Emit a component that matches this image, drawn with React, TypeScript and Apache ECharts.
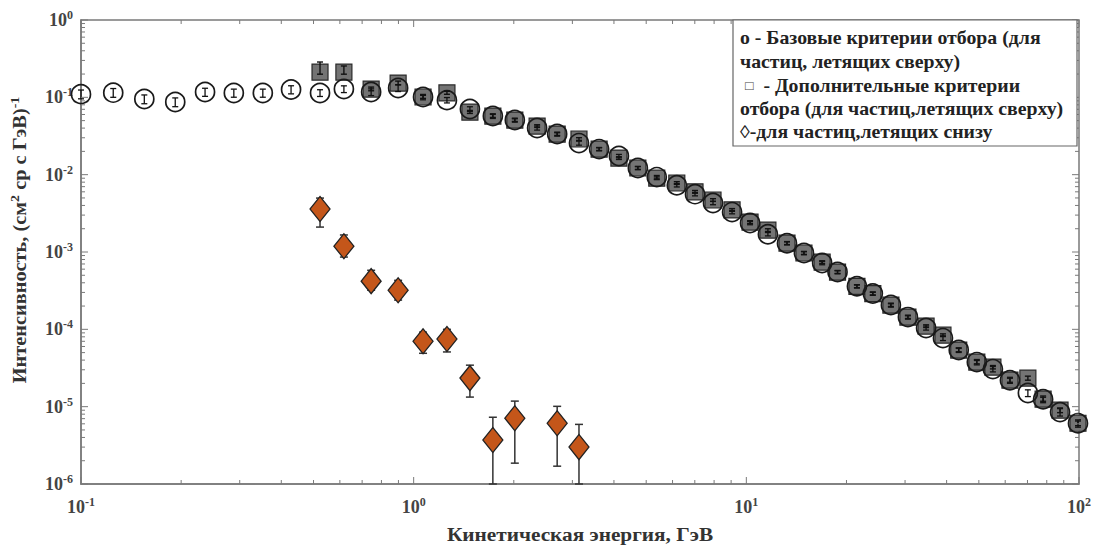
import React, { useEffect, useRef } from "react";
import * as echarts from "echarts";

// Kinetic energy bins, GeV
const energy = [
  0.1, 0.125, 0.155, 0.192, 0.236, 0.288, 0.352, 0.428, 0.523, 0.617,
  0.745, 0.898, 1.067, 1.259, 1.476, 1.73, 2.014, 2.35, 2.7, 3.14,
  3.61, 4.14, 4.72, 5.38, 6.18, 7.01, 7.94, 9.06, 10.26, 11.61,
  13.25, 14.9, 16.9, 18.8, 21.5, 24.0, 27.2, 30.6, 34.7, 39.0,
  43.5, 49.3, 55.1, 62.0, 70.2, 78.0, 87.7, 99.3,
];

// Basic selection criteria (circles)
const baseIntensity = [
  0.11, 0.115, 0.095, 0.087, 0.117, 0.114, 0.114, 0.126, 0.114, 0.128,
  0.117, 0.132, 0.101, 0.092, 0.0706, 0.0573, 0.0508, 0.0401, 0.0335, 0.0256,
  0.0214, 0.0174, 0.0122, 0.0093, 0.0073, 0.0056, 0.0043, 0.00328, 0.00237, 0.0017,
  0.0013, 0.00097, 0.00072, 0.00055, 0.00036, 0.00029, 0.000206, 0.000144, 0.000104, 7.7e-5,
  5.4e-5, 3.77e-5, 3.06e-5, 2.2e-5, 1.5e-5, 1.25e-5, 8.5e-6, 6.1e-6,
];
const baseRelErr = [
  0.13, 0.13, 0.13, 0.13, 0.12, 0.12, 0.12, 0.12, 0.1, 0.1,
  0.1, 0.1, 0.08, 0.08, 0.07, 0.07, 0.06, 0.06, 0.06, 0.06,
  0.05, 0.05, 0.05, 0.05, 0.05, 0.05, 0.05, 0.05, 0.05, 0.05,
  0.05, 0.05, 0.05, 0.05, 0.05, 0.05, 0.06, 0.06, 0.06, 0.07,
  0.07, 0.08, 0.08, 0.09, 0.1, 0.1, 0.11, 0.11,
];

// Additional selection criteria (squares), from energy[8] onward
const extraEnergy = energy.slice(8);
const extraIntensity = [
  0.212, 0.212, 0.128, 0.153, 0.101, 0.114, 0.0645, 0.0573, 0.0508, 0.0425,
  0.0335, 0.0289, 0.0214, 0.0164, 0.0122, 0.009, 0.0078, 0.006, 0.0047, 0.0035,
  0.00244, 0.00192, 0.0013, 0.00097, 0.00074, 0.00055, 0.00036, 0.00029, 0.000206, 0.000144,
  0.00011, 8.4e-5, 5.4e-5, 3.77e-5, 3.24e-5, 2.2e-5, 2.34e-5, 1.25e-5, 9.0e-6, 6.1e-6,
];
const extraErrUp = [
  0.35, 0.2, 0.06, 0.06, 0.05, 0.05, 0.05, 0.05, 0.04, 0.04,
  0.04, 0.04, 0.04, 0.04, 0.04, 0.04, 0.04, 0.04, 0.04, 0.04,
  0.04, 0.04, 0.04, 0.04, 0.04, 0.04, 0.04, 0.04, 0.04, 0.04,
  0.04, 0.04, 0.05, 0.05, 0.05, 0.06, 0.06, 0.06, 0.07, 0.07,
];
const extraErrDown = [
  0.06, 0.06, 0.05, 0.05, 0.04, 0.04, 0.04, 0.04, 0.04, 0.04,
  0.04, 0.04, 0.04, 0.04, 0.04, 0.04, 0.04, 0.04, 0.04, 0.04,
  0.04, 0.04, 0.04, 0.04, 0.04, 0.04, 0.04, 0.04, 0.04, 0.04,
  0.04, 0.04, 0.05, 0.05, 0.05, 0.06, 0.06, 0.06, 0.07, 0.07,
];

// Upward-going particles (diamonds)
const upEnergy = [0.523, 0.617, 0.745, 0.898, 1.067, 1.259, 1.476, 1.73, 2.014, 2.7, 3.14];
const upIntensity = [3.59e-3, 1.19e-3, 4.2e-4, 3.2e-4, 7.0e-5, 7.5e-5, 2.34e-5, 3.7e-6, 7.1e-6, 6.1e-6, 3.0e-6];
const upHigh = [4.98e-3, 1.66e-3, 5.8e-4, 4.3e-4, 9.2e-5, 1.0e-4, 3.44e-5, 7.3e-6, 1.18e-5, 1.01e-5, 5.9e-6];
const upLow = [2.1e-3, 8.6e-4, 3.2e-4, 2.39e-4, 4.9e-5, 5.1e-5, 1.33e-5, 1e-6, 1.86e-6, 1.7e-6, 1e-6];

// Axis ticks
const xMajorTicks = [0.1, 1, 10, 100];
const yMajorTicks = [1e-6, 1e-5, 1e-4, 1e-3, 1e-2, 1e-1, 1];
const minorMultipliers = [2, 3, 4, 5, 6, 7, 8, 9];

const xTitle = "Кинетическая энергия, ГэВ";
const legendLines = [
  "o - Базовые критерии отбора (для",
  "частиц, летящих сверху)",
  " {sq|□}  - Дополнительные критерии",
  "отбора (для частиц,летящих сверху)",
  "◊-для частиц,летящих снизу",
];

const FONT = '"Liberation Serif", "Times New Roman", serif';
const AXIS_COLOR = "#7a7a7a";

function errorBarSeries(data: number[][], color: string, lw: number, cap: number, z: number) {
  return {
    type: "custom",
    z,
    silent: true,
    encode: { x: 0, y: [1, 2] },
    data,
    renderItem: (params: any, api: any) => {
      const x = api.value(0);
      const a = api.coord([x, api.value(1)]);
      const b = api.coord([x, api.value(2)]);
      const style = { stroke: color, lineWidth: lw };
      return {
        type: "group",
        children: [
          { type: "line", shape: { x1: a[0], y1: a[1], x2: b[0], y2: b[1] }, style },
          { type: "line", shape: { x1: a[0] - cap, y1: a[1], x2: a[0] + cap, y2: a[1] }, style },
          { type: "line", shape: { x1: b[0] - cap, y1: b[1], x2: b[0] + cap, y2: b[1] }, style },
        ],
      };
    },
  };
}

export default function App() {
  const ref = useRef<HTMLDivElement>(null);

  useEffect(() => {
    if (!ref.current) return;
    const chart = echarts.init(ref.current, null, { renderer: "svg" });

    const xTickData: number[][] = [];
    xMajorTicks.forEach((v, i) => {
      xTickData.push([v, 1e-3, 1]);
      if (i < xMajorTicks.length - 1) minorMultipliers.forEach((m) => xTickData.push([v * m, 1e-3, 0]));
    });
    const yTickData: number[][] = [];
    yMajorTicks.forEach((v, i) => {
      yTickData.push([1, v, 1]);
      if (i < yMajorTicks.length - 1) minorMultipliers.forEach((m) => yTickData.push([1, v * m, 0]));
    });

    const labelRich = {
      b: { fontSize: 18, fontWeight: "bold", color: "#444", fontFamily: FONT, lineHeight: 22 },
      s: { fontSize: 12, fontWeight: "bold", color: "#444", fontFamily: FONT, lineHeight: 12, verticalAlign: "top" },
    };
    const fmt = (v: number) => `{b|10}{s|${Math.round(Math.log10(v))}}`;

    const option: any = {
      animation: false,
      backgroundColor: "#fff",
      grid: {
        left: 81, right: 17, top: 20, bottom: 63,
        show: true, borderColor: AXIS_COLOR, borderWidth: 1.5, backgroundColor: "transparent",
      },
      xAxis: {
        type: "log", logBase: 10, min: 0.1, max: 100, interval: 1,
        axisLine: { show: true, lineStyle: { color: AXIS_COLOR, width: 1.5 } },
        axisTick: { show: false },
        splitLine: { show: false },
        axisLabel: { formatter: fmt, rich: labelRich, margin: 12 },
      },
      yAxis: {
        type: "log", logBase: 10, min: 1e-6, max: 1, interval: 1,
        axisLine: { show: true, lineStyle: { color: AXIS_COLOR, width: 1.5 } },
        axisTick: { show: false },
        splitLine: { show: false },
        axisLabel: { formatter: fmt, rich: labelRich, margin: 8 },
      },
      graphic: [
        {
          type: "text", x: 580, y: 534, z: 10, scaleX: 1.12,
          style: {
            text: xTitle, fontSize: 19, fontWeight: "bold", fontFamily: FONT, fill: "#333",
            align: "center", verticalAlign: "middle",
          },
        },
        {
          type: "text", x: 19, y: 240, rotation: Math.PI / 2, scaleX: 1.07, z: 10,
          style: {
            text: "{t|Интенсивность, (см}{s|2}{t| ср с ГэВ)}{s|-1}",
            align: "center", verticalAlign: "middle",
            rich: {
              t: { fontSize: 19, fontWeight: "bold", fontFamily: FONT, fill: "#333", lineHeight: 22 },
              s: { fontSize: 13, fontWeight: "bold", fontFamily: FONT, fill: "#333", lineHeight: 13, verticalAlign: "top" },
            },
          },
        },
        {
          type: "rect", z: 20,
          shape: { x: 733, y: 20, width: 344, height: 126 },
          style: { fill: "#fff", stroke: "#666", lineWidth: 1.2 },
        },
        ...legendLines.map((t, i) => ({
          type: "text", z: 21, x: 740, y: [38, 62, 86, 109, 132][i], scaleX: 1.1,
          style: {
            text: t, fontSize: 18, fontWeight: "bold", fontFamily: FONT, fill: "#222",
            align: "left", verticalAlign: "middle",
            rich: { sq: { fontSize: 13, fontFamily: FONT, fill: "#444" } },
          },
        })),
      ],
      series: [
        {
          type: "scatter", z: 2, symbol: "rect", symbolSize: 16,
          itemStyle: { color: "#747474", borderColor: "#2a2a2a", borderWidth: 1.2, opacity: 1 },
          data: extraEnergy.map((e, i) => [e, extraIntensity[i]]),
        },
        {
          type: "scatter", z: 3, symbol: "circle", symbolSize: 19,
          itemStyle: { color: "rgba(0,0,0,0)", borderColor: "#1a1a1a", borderWidth: 1.7, opacity: 1 },
          data: energy.map((e, i) => [e, baseIntensity[i]]),
        },
        errorBarSeries(
          extraEnergy.map((e, i) => [e, extraIntensity[i] * (1 - extraErrDown[i]), extraIntensity[i] * (1 + extraErrUp[i])]),
          "#111", 1.4, 3, 4
        ),
        errorBarSeries(
          energy.map((e, i) => [e, baseIntensity[i] * (1 - baseRelErr[i]), baseIntensity[i] * (1 + baseRelErr[i])]),
          "#111", 1.3, 3, 4
        ),
        errorBarSeries(upEnergy.map((e, i) => [e, upLow[i], upHigh[i]]), "#333", 1.5, 4, 5),
        {
          type: "scatter", z: 6, symbol: "diamond", symbolSize: [20, 25],
          itemStyle: { color: "#c4561a", borderColor: "#222", borderWidth: 1.3, opacity: 1 },
          data: upEnergy.map((e, i) => [e, upIntensity[i]]),
        },
        {
          type: "custom", z: 7, silent: true, encode: { x: 0, y: 1 }, data: xTickData,
          renderItem: (params: any, api: any) => {
            const p = api.coord([api.value(0), api.value(1)]);
            const cs = params.coordSys;
            const len = api.value(2) === 1 ? 7 : 4;
            const style = { stroke: AXIS_COLOR, lineWidth: 1 };
            return {
              type: "group",
              children: [
                { type: "line", shape: { x1: p[0], y1: cs.y + cs.height, x2: p[0], y2: cs.y + cs.height - len }, style },
                { type: "line", shape: { x1: p[0], y1: cs.y, x2: p[0], y2: cs.y + len }, style },
              ],
            };
          },
        },
        {
          type: "custom", z: 7, silent: true, encode: { x: 0, y: 1 }, data: yTickData,
          renderItem: (params: any, api: any) => {
            const p = api.coord([api.value(0), api.value(1)]);
            const cs = params.coordSys;
            const len = api.value(2) === 1 ? 7 : 4;
            const style = { stroke: AXIS_COLOR, lineWidth: 1 };
            return {
              type: "group",
              children: [
                { type: "line", shape: { x1: cs.x, y1: p[1], x2: cs.x + len, y2: p[1] }, style },
                { type: "line", shape: { x1: cs.x + cs.width, y1: p[1], x2: cs.x + cs.width - len, y2: p[1] }, style },
              ],
            };
          },
        },
      ],
    };

    chart.setOption(option);
    return () => chart.dispose();
  }, []);

  return (
    <div
      ref={ref}
      style={{ position: "fixed", left: 0, top: 0, width: 1096, height: 547, background: "#fff" }}
    />
  );
}
